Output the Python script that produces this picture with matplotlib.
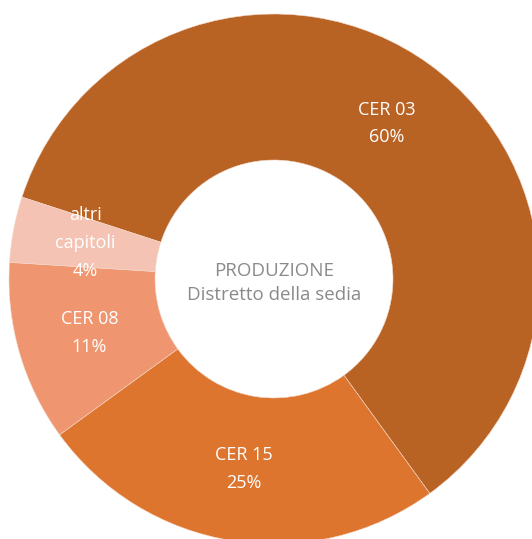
import matplotlib
matplotlib.use('Agg')
import matplotlib.pyplot as plt

# dati
categorie = ['CER 03', 'CER 15', 'CER 08', 'altri\ncapitoli']
valori = [60, 25, 11, 4]
colori = ['#B86224', '#DE752E', '#EF9670', '#F5C3B3']
titolo = 'PRODUZIONE\nDistretto della sedia'

plt.rcParams['font.family'] = ['Open Sans', 'DejaVu Sans']

fig = plt.figure(figsize=(5.32, 5.39), dpi=100)
ax = fig.add_axes([0, 0, 1, 1])

etichette = [c + '\n' + str(v) + '%' for c, v in zip(categorie, valori)]
wedges, testi = ax.pie(valori, colors=colori, startangle=162, counterclock=False,
                       radius=1, labels=etichette, labeldistance=0.725,
                       wedgeprops=dict(width=0.551, edgecolor='#f3d8c8', linewidth=0.4),
                       textprops=dict(color='white', fontsize=13, linespacing=1.7))
for t in testi:
    t.set_ha('center')
    t.set_va('center')

ax.text(0, -0.015, titolo, ha='center', va='center', color='#8a8a8a',
        fontsize=13.5, linespacing=1.4)

ax.set_xlim(-274 / 265, (532 - 274) / 265)
ax.set_ylim(-(539 - 279) / 265, 279 / 265)
ax.set_aspect('auto')
ax.axis('off')

plt.savefig('out.png', dpi=100)
